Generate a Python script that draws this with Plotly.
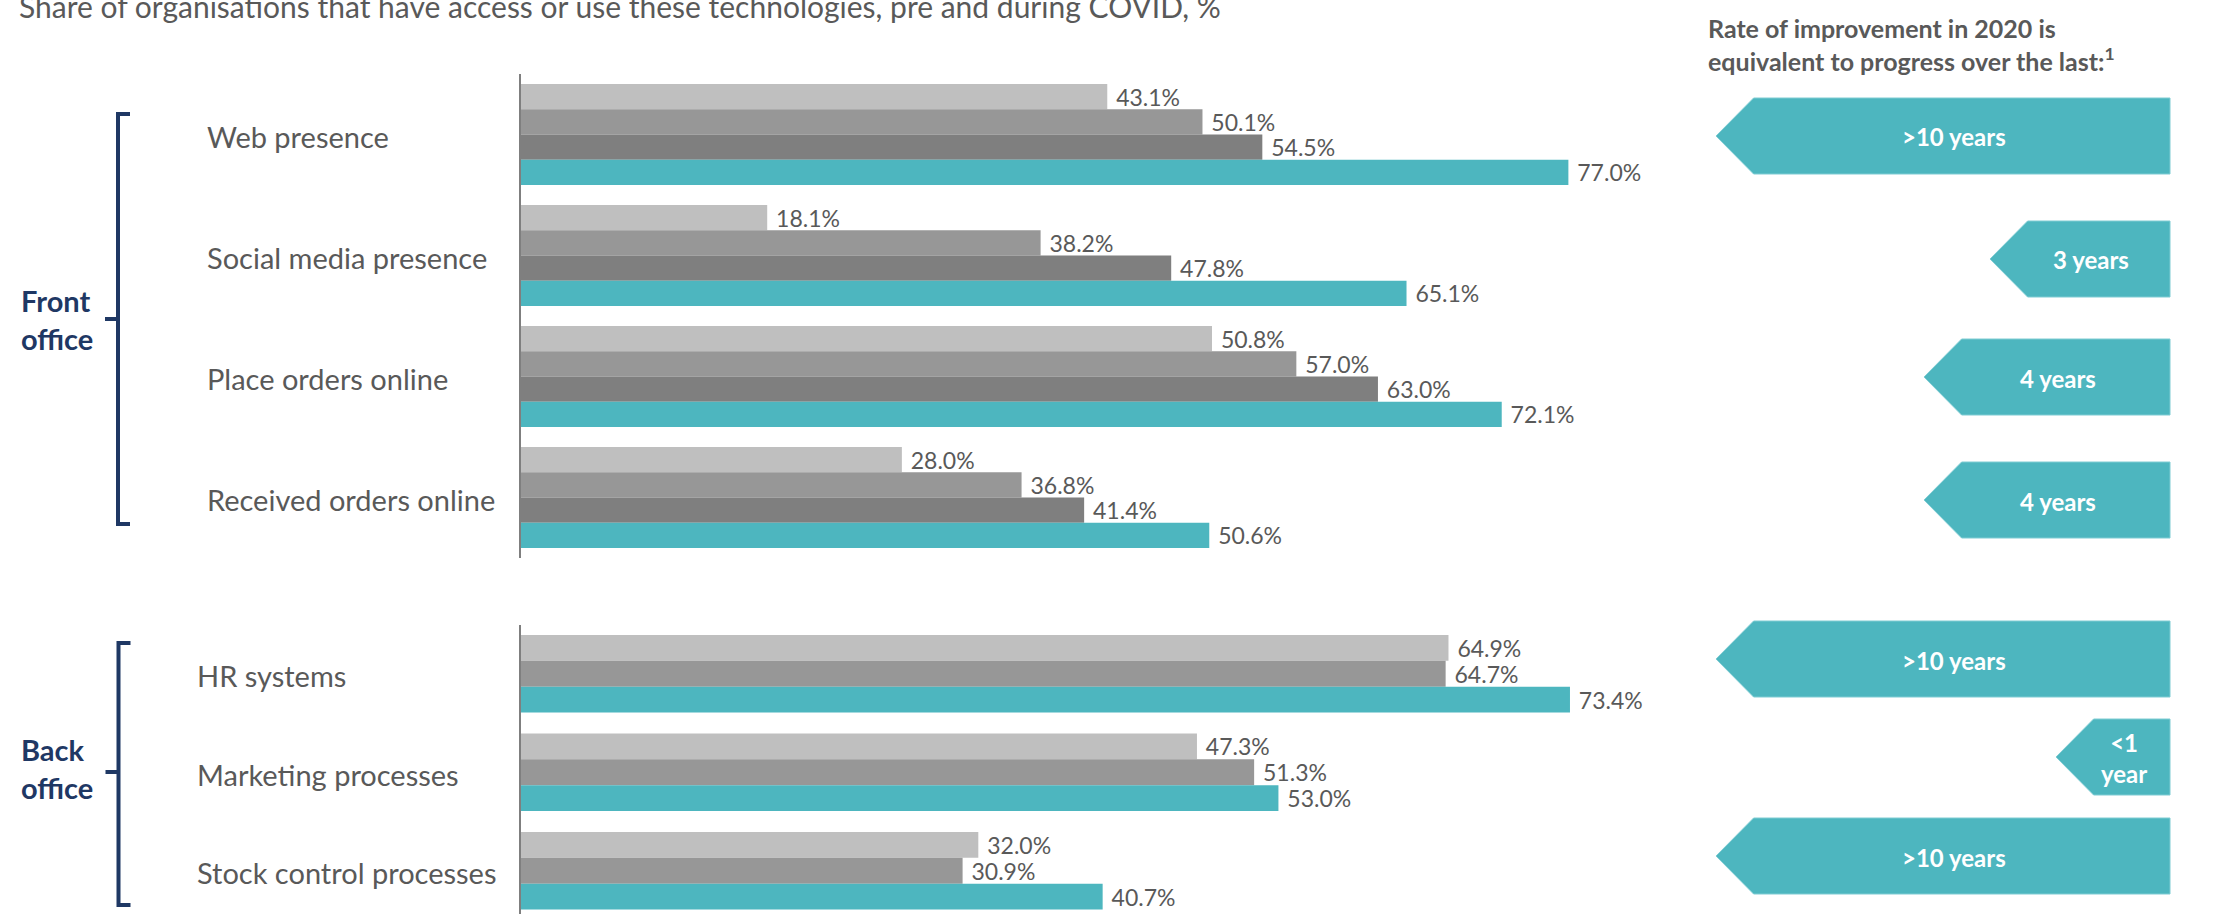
import plotly.graph_objects as go

# ---------------- data ----------------
front_categories = ["Web presence", "Social media presence", "Place orders online", "Received orders online"]
front_wave1 = [43.1, 18.1, 50.8, 28.0]
front_wave2 = [50.1, 38.2, 57.0, 36.8]
front_wave3 = [54.5, 47.8, 63.0, 41.4]
front_covid = [77.0, 65.1, 72.1, 50.6]

back_categories = ["HR systems", "Marketing processes", "Stock control processes"]
back_wave1 = [64.9, 47.3, 32.0]
back_wave2 = [64.7, 51.3, 30.9]
back_covid = [73.4, 53.0, 40.7]

front_rates = [">10 years", "3 years", "4 years", "4 years"]
back_rates = [">10 years", "<1 year", ">10 years"]

title_text = "Share of organisations that have access or use these technologies, pre and during COVID, %"
rate_header = "Rate of improvement in 2020 is<br>equivalent to progress over the last:<sup>1</sup>"

# ---------------- styling ----------------
W, H = 2216, 914
FONT = "Lato"
TEXT_GREY = "#595959"
NAVY = "#1F3864"
TEAL = "#4DB6BF"
GREY_LIGHT = "#BFBFBF"
GREY_MID = "#979797"
GREY_DARK = "#7F7F7F"


def px(x):
    return x / W


def py(y):
    return 1 - y / H


fig = go.Figure()


def add_group(cats, series, colors, names, xaxis, yaxis, bar_w):
    n = len(series)
    start = -n * bar_w / 2
    for i, (vals, col, name) in enumerate(zip(series, colors, names)):
        fig.add_trace(go.Bar(
            y=cats, x=vals, orientation="h", name=name,
            xaxis=xaxis, yaxis=yaxis,
            width=bar_w, offset=start + i * bar_w,
            marker=dict(color=col, line=dict(width=0)),
            texttemplate="\u00a0%{x:.1f}%", textposition="outside",
            textfont=dict(family=FONT, size=23, color=TEXT_GREY),
            constraintext="none", cliponaxis=False,
            hoverinfo="skip", showlegend=False,
        ))


add_group(front_categories,
          [front_wave1, front_wave2, front_wave3, front_covid],
          [GREY_LIGHT, GREY_MID, GREY_DARK, TEAL],
          ["Pre-COVID (earliest)", "Pre-COVID (middle)", "Pre-COVID (latest)", "During COVID"],
          "x", "y", 0.2087)
add_group(back_categories,
          [back_wave1, back_wave2, back_covid],
          [GREY_LIGHT, GREY_MID, TEAL],
          ["Pre-COVID (earlier)", "Pre-COVID (latest)", "During COVID"],
          "x2", "y2", 0.262)

x_dom = [px(521), px(1650)]
axis_common = dict(showgrid=False, zeroline=False, showticklabels=False, ticks="", fixedrange=True)

layout = dict(
    width=W, height=H, autosize=False,
    margin=dict(l=0, r=0, t=0, b=0),
    paper_bgcolor="white", plot_bgcolor="white",
    barmode="overlay", showlegend=False,
    font=dict(family=FONT, color=TEXT_GREY),
    xaxis=dict(domain=x_dom, range=[0, 83.0], anchor="y", visible=False),
    yaxis=dict(domain=[py(558), py(74)], range=[3.5, -0.5], anchor="x",
               type="category", showline=True, linecolor="#7F7F7F", linewidth=1.5,
               **axis_common),
    xaxis2=dict(domain=x_dom, range=[0, 79.0], anchor="y2", visible=False),
    yaxis2=dict(domain=[0, py(624.5)], range=[2.439, -0.5], anchor="x2",
                type="category", showline=True, linecolor="#7F7F7F", linewidth=1.5,
                **axis_common),
)

annotations = []
shapes = []

# category labels, left aligned
for c in front_categories:
    annotations.append(dict(x=px(205), xref="paper", y=c, yref="y", text=c,
                            xanchor="left", yanchor="middle", showarrow=False, yshift=-2,
                            font=dict(family=FONT, size=29, color=TEXT_GREY)))
for c in back_categories:
    annotations.append(dict(x=px(195), xref="paper", y=c, yref="y2", text=c,
                            xanchor="left", yanchor="middle", showarrow=False, yshift=-2,
                            font=dict(family=FONT, size=29, color=TEXT_GREY)))

# title (partly cut at top edge)
annotations.append(dict(x=px(17), y=py(6), xref="paper", yref="paper", text=title_text,
                        xanchor="left", yanchor="middle", showarrow=False,
                        font=dict(family=FONT, size=30, color=TEXT_GREY)))

# group brackets with labels
def bracket(x, top, mid, bottom, label, label_y):
    path = (f"M {px(x + 12)},{py(top)} L {px(x)},{py(top)} L {px(x)},{py(bottom)} "
            f"L {px(x + 12)},{py(bottom)} M {px(x)},{py(mid)} L {px(x - 13)},{py(mid)}")
    shapes.append(dict(type="path", path=path, xref="paper", yref="paper",
                       line=dict(color=NAVY, width=4)))
    annotations.append(dict(x=px(19), y=py(label_y), xref="paper", yref="paper", text=label,
                            xanchor="left", yanchor="middle", align="left", showarrow=False,
                            font=dict(family=FONT, size=29, color=NAVY, weight="bold")))


bracket(118, 114, 319, 524, "Front<br>office", 319)
bracket(118.5, 643, 772, 905, "Back<br>office", 768)

# right panel header
annotations.append(dict(x=px(1706), y=py(44), xref="paper", yref="paper", text=rate_header,
                        xanchor="left", yanchor="middle", align="left", showarrow=False,
                        font=dict(family=FONT, size=25, color=TEXT_GREY, weight="bold")))

# left-pointing callouts: tip position by rate label
tip_x = {">10 years": 1716, "4 years": 1924, "3 years": 1990, "<1 year": 2056}
row_centres = [136, 259, 377, 500, 659, 757, 856]
right_x = 2170
half_h = 38
for rate, yc in zip(front_rates + back_rates, row_centres):
    tip = tip_x[rate]
    shoulder = tip + 37.6
    path = (f"M {px(tip)},{py(yc)} L {px(shoulder)},{py(yc - half_h)} "
            f"L {px(right_x)},{py(yc - half_h)} L {px(right_x)},{py(yc + half_h)} "
            f"L {px(shoulder)},{py(yc + half_h)} Z")
    shapes.append(dict(type="path", path=path, xref="paper", yref="paper",
                       fillcolor=TEAL, line=dict(color="#7FCCD3", width=1)))
    label = rate.replace("<1 year", "&lt;1<br>year")
    annotations.append(dict(x=px((shoulder + right_x) / 2 - 8), y=py(yc + 1), xref="paper",
                            yref="paper", text=label, xanchor="center", yanchor="middle",
                            align="center", showarrow=False,
                            font=dict(family=FONT, size=24, color="white", weight="bold")))

layout["annotations"] = annotations
layout["shapes"] = shapes
fig.update_layout(**layout)

fig.write_html("out.html", config={"displayModeBar": False})
